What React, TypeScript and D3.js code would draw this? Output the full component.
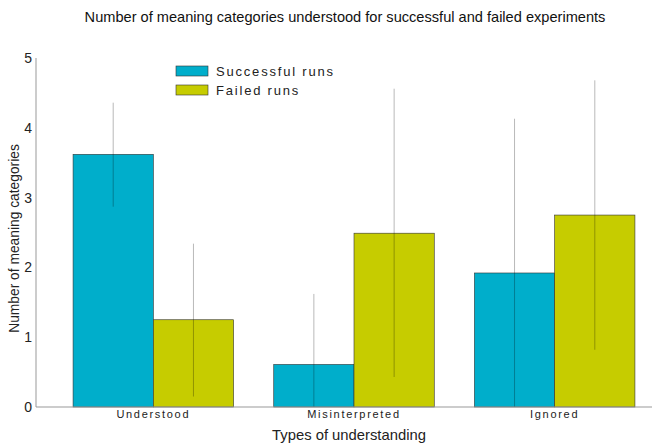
import React from "react";
import * as d3 from "d3";

const categories = ["Understood", "Misinterpreted", "Ignored"];
const seriesNames = ["Successful runs", "Failed runs"];
const successMeans = [3.62, 0.61, 1.92];
const successLow = [2.87, -0.4, -0.29];
const successHigh = [4.36, 1.62, 4.13];
const failedMeans = [1.25, 2.49, 2.75];
const failedLow = [0.15, 0.43, 0.82];
const failedHigh = [2.34, 4.56, 4.68];
const yTicks = [0, 1, 2, 3, 4, 5];
const colors = ["#00aecb", "#c6cc00"];

const W = 652, H = 444;
const left = 36, top = 58, bottom = 407, rightEnd = 652;

export default function App() {
  const x0 = d3.scaleBand<string>().domain(categories).range([53, 655]).paddingInner(0.2).paddingOuter(0.1);
  const x1 = d3.scaleBand<string>().domain(seriesNames).range([0, x0.bandwidth()]);
  const y = d3.scaleLinear().domain([0, 5]).range([bottom, top]);
  const series = [
    { name: seriesNames[0], means: successMeans, lo: successLow, hi: successHigh, color: colors[0] },
    { name: seriesNames[1], means: failedMeans, lo: failedLow, hi: failedHigh, color: colors[1] },
  ];
  const font = "Liberation Sans, Arial, sans-serif";
  return (
    <svg width={W} height={H} style={{ position: "absolute", left: 0, top: 0, background: "#fff" }} fontFamily={font}>
      <text x={345} y={22} textAnchor="middle" fontSize={14.6} fill="#111">
        Number of meaning categories understood for successful and failed experiments
      </text>
      {series.map((s) =>
        categories.map((c, i) => {
          const bx = (x0(c) ?? 0) + (x1(s.name) ?? 0);
          const bw = x1.bandwidth();
          const cx = bx + bw / 2;
          return (
            <g key={s.name + c}>
              <rect x={bx} y={y(s.means[i])} width={bw} height={y(0) - y(s.means[i])} fill={s.color} stroke="#333" strokeWidth={0.6} />
              <line x1={cx} x2={cx} y1={y(Math.max(0, s.lo[i]))} y2={y(s.hi[i])} stroke="rgba(0,0,0,0.28)" strokeWidth={1} />
            </g>
          );
        })
      )}
      <line x1={left} x2={left} y1={top} y2={bottom} stroke="#999" />
      <line x1={left} x2={rightEnd} y1={bottom} y2={bottom} stroke="#999" />
      {yTicks.map((t) => (
        <text key={t} x={left - 4} y={y(t) + 5} textAnchor="end" fontSize={14} fill="#222">{t}</text>
      ))}
      {categories.map((c) => (
        <text key={c} x={(x0(c) ?? 0) + x0.bandwidth() / 2} y={418} textAnchor="middle" fontSize={11} letterSpacing={1.7} fill="#222">{c}</text>
      ))}
      <text x={349} y={440} textAnchor="middle" fontSize={14.8} fill="#222">Types of understanding</text>
      <text transform={`translate(19,${(top + bottom) / 2 + 6}) rotate(-90)`} textAnchor="middle" fontSize={13.8} fill="#222">Number of meaning categories</text>
      {series.map((s, i) => (
        <g key={s.name} transform={`translate(176,${66 + i * 19})`}>
          <rect x={0} y={0} width={32} height={10} fill={s.color} stroke="#333" strokeWidth={0.6} />
          <text x={40} y={10} fontSize={13} letterSpacing={1.8} fill="#222">{s.name}</text>
        </g>
      ))}
    </svg>
  );
}
